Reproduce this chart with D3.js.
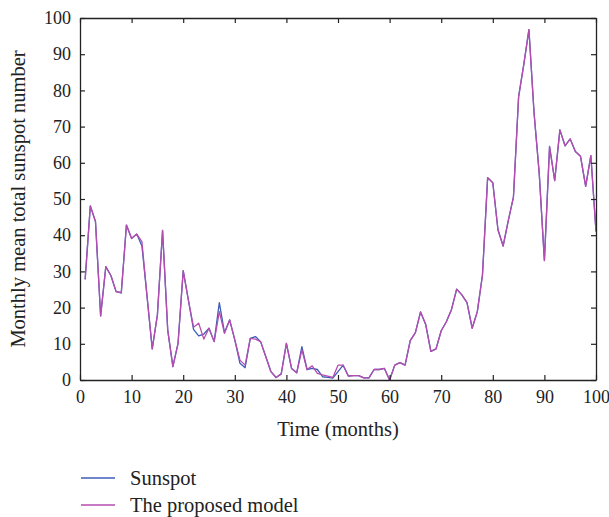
<script src='https://d3js.org/d3.v7.min.js'></script>
<style>body{margin:0;background:#fff;} text{font-family:'Liberation Serif',serif;fill:#222;}</style>
<svg id='chart'></svg>
<script>
// months 1..100
var sunspot=[27.8,48.1,43.8,17.7,31.3,28.8,24.4,24.1,42.8,39.1,
  40.3,37.0,23.0,8.6,18.0,41.3,13.8,3.7,10.1,30.2,
  22.1,14.0,12.2,12.7,14.3,10.6,21.4,13.1,16.6,11.1,
  4.6,3.4,11.5,12.0,10.6,6.5,2.3,0.7,1.7,10.1,
  3.2,2.0,9.2,2.9,3.2,2.9,0.9,0.7,0.5,2.3,
  4.1,1.1,1.2,1.2,0.6,0.6,2.9,2.9,3.2,0.0,
  4.1,4.8,4.1,10.9,13.1,18.8,15.3,7.9,8.6,13.6,
  16.1,19.5,25.1,23.5,21.4,14.3,18.9,29.0,55.9,54.5,
  41.5,37.0,44.0,50.5,78.2,87.1,96.8,73.7,57.0,33.0,
  64.5,55.1,69.1,64.7,66.6,63.1,61.8,53.5,62.0,41.0];
var model=[27.8,48.1,43.8,17.7,31.3,28.8,24.4,24.1,42.8,39.1,
  40.3,38.2,23.0,8.6,18.0,41.3,13.8,3.7,10.1,30.2,
  22.1,14.6,15.7,11.3,14.3,10.6,18.9,12.9,16.6,11.1,
  5.5,4.1,11.5,11.3,10.6,6.5,2.3,0.7,1.7,10.1,
  3.2,2.0,8.3,2.9,3.9,1.8,1.4,1.1,0.7,4.1,
  4.1,1.1,1.2,1.2,0.6,0.6,2.9,2.9,3.2,0.0,
  4.1,4.8,4.1,10.9,13.1,18.8,15.3,7.9,8.6,13.6,
  16.1,19.5,25.1,23.5,21.4,14.3,18.9,29.0,55.9,54.5,
  41.5,37.0,44.0,50.5,78.2,87.1,96.8,73.7,57.0,33.0,
  64.5,55.1,69.1,64.7,66.6,63.1,61.8,53.5,62.0,41.0];
var xTicks=d3.range(0,101,10), yTicks=d3.range(0,101,10);
var names=['Sunspot','The proposed model'], colors=['#3d5db8','#b54db0'];

var W=609,H=517,m={top:18,right:13,bottom:137,left:80};
var svg=d3.select('#chart').attr('width',W).attr('height',H);
var x=d3.scaleLinear().domain([0,100]).range([m.left,W-m.right]),
    y=d3.scaleLinear().domain([0,100]).range([H-m.bottom,m.top]);

var line=d3.line().x(function(d,i){return x(i+1);}).y(function(d){return y(d);});
[sunspot,model].forEach(function(s,k){
  svg.append('path').datum(s).attr('d',line).attr('fill','none')
     .attr('stroke',colors[k]).attr('stroke-width',1.3).attr('stroke-linejoin','round');
});

var tk=5;
svg.append('g').attr('transform','translate(0,'+y(0)+')')
   .call(d3.axisBottom(x).tickValues(xTicks).tickSize(-tk).tickSizeOuter(0).tickPadding(10))
   .call(function(g){g.selectAll('text').attr('font-size',18);});
svg.append('g').attr('transform','translate('+x(0)+',0)')
   .call(d3.axisLeft(y).tickValues(yTicks).tickSize(-tk).tickSizeOuter(0).tickPadding(9))
   .call(function(g){g.selectAll('text').attr('font-size',18);});
svg.append('g').attr('transform','translate(0,'+y(100)+')')
   .call(d3.axisTop(x).tickValues(xTicks).tickSize(-tk).tickSizeOuter(0).tickFormat(''));
svg.append('g').attr('transform','translate('+x(100)+',0)')
   .call(d3.axisRight(y).tickValues(yTicks).tickSize(-tk).tickSizeOuter(0).tickFormat(''));
svg.selectAll('.domain').attr('stroke','#222').attr('stroke-width',1.3);
svg.selectAll('.tick line').attr('stroke','#222').attr('stroke-width',1.2);
svg.selectAll('.tick text').attr('fill','#222').attr('font-family','Liberation Serif');

svg.append('text').attr('x',(x(0)+x(100))/2).attr('y',436).attr('text-anchor','middle')
   .attr('font-size',20.5).text('Time (months)');
svg.append('text').attr('transform','translate(25,'+((y(0)+y(100))/2)+') rotate(-90)')
   .attr('text-anchor','middle').attr('font-size',20.5).text('Monthly mean total sunspot number');

names.forEach(function(n,k){
  var yy=478+k*27;
  svg.append('line').attr('x1',81).attr('x2',115).attr('y1',yy).attr('y2',yy)
     .attr('stroke',colors[k]).attr('stroke-width',1.5);
  svg.append('text').attr('x',130).attr('y',yy+6.5).attr('font-size',20.5).text(n);
});
</script>
